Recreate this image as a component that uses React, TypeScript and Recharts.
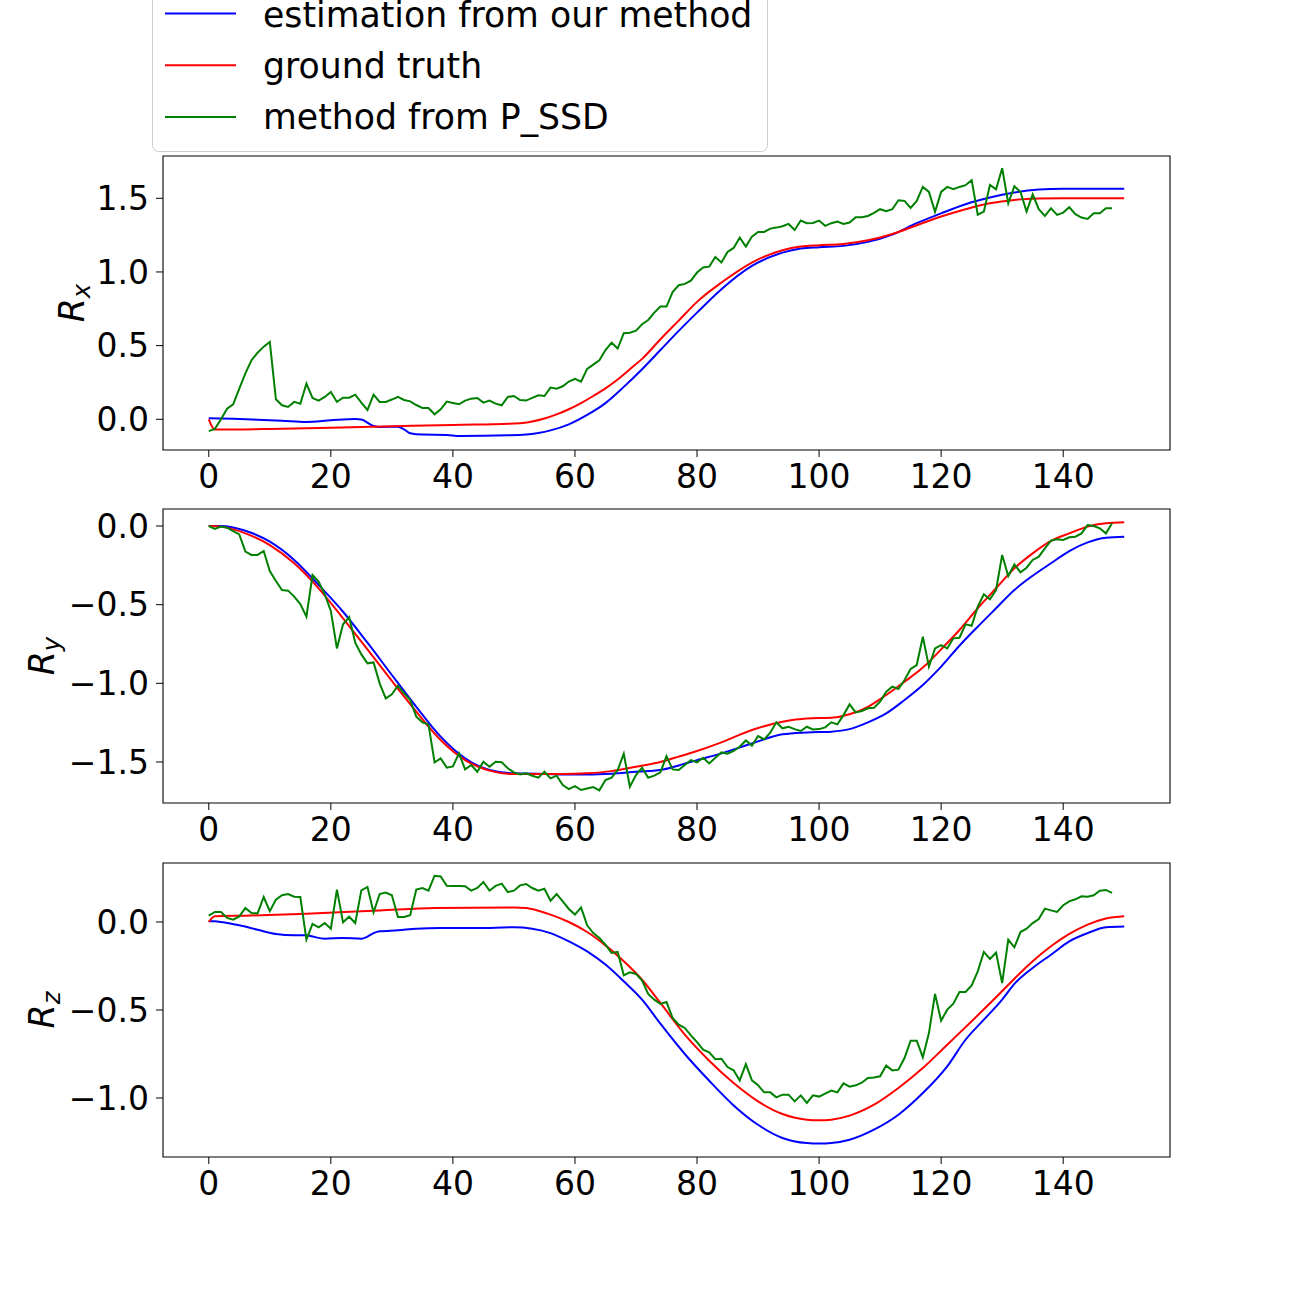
import React from 'react';
import { LineChart, Line, XAxis, YAxis, ReferenceArea, Legend, Label } from 'recharts';

const FONT = '"DejaVu Sans", sans-serif';

const frameTicks = [0, 20, 40, 60, 80, 100, 120, 140];

// ---- R_x ----
const rxEstX = [0, 4, 8, 12, 16, 20, 24, 25, 27, 28, 31, 32, 33, 35, 39, 41, 49, 52, 54, 56, 59, 62, 65, 68, 71, 74, 77, 80, 84, 89, 94, 97, 100, 104, 108, 112, 116, 120, 124, 128, 132, 136, 140, 144, 150];
const rxEst = [0.007, 0.003, -0.003, -0.01, -0.018, -0.007, 0.002, -0.002, -0.045, -0.052, -0.05, -0.068, -0.095, -0.104, -0.106, -0.113, -0.109, -0.104, -0.093, -0.075, -0.034, 0.03, 0.11, 0.22, 0.34, 0.47, 0.6, 0.724, 0.883, 1.041, 1.131, 1.159, 1.168, 1.177, 1.204, 1.254, 1.331, 1.398, 1.46, 1.505, 1.539, 1.559, 1.565, 1.565, 1.565];
const rxTruthX = [0, 1, 10, 25, 40, 51, 53, 55, 57, 59, 61, 63, 65, 67, 69, 71, 74, 77, 80, 84, 89, 94, 97, 100, 104, 108, 112, 116, 120, 124, 128, 132, 136, 140, 150];
const rxTruth = [0, -0.07, -0.066, -0.052, -0.038, -0.027, -0.015, 0.005, 0.033, 0.068, 0.11, 0.158, 0.21, 0.27, 0.34, 0.41, 0.543, 0.67, 0.797, 0.928, 1.064, 1.147, 1.172, 1.181, 1.19, 1.215, 1.258, 1.317, 1.376, 1.426, 1.466, 1.489, 1.498, 1.5, 1.5];
const rxPssd = [
  -0.08, -0.065, 0.0, 0.072, 0.102, 0.208, 0.312, 0.401, 0.452, 0.493,
  0.525, 0.136, 0.095, 0.084, 0.118, 0.106, 0.242, 0.145, 0.127, 0.152,
  0.186, 0.118, 0.147, 0.147, 0.167, 0.113, 0.063, 0.167, 0.118, 0.118,
  0.134, 0.152, 0.131, 0.122, 0.097, 0.077, 0.077, 0.034, 0.068, 0.12,
  0.111, 0.102, 0.127, 0.14, 0.145, 0.113, 0.127, 0.106, 0.095, 0.152,
  0.158, 0.131, 0.127, 0.145, 0.163, 0.158, 0.215, 0.208, 0.224, 0.256,
  0.274, 0.256, 0.342, 0.371, 0.4, 0.47, 0.52, 0.48, 0.584, 0.588,
  0.602, 0.645, 0.674, 0.724, 0.765, 0.765, 0.864, 0.91, 0.919, 0.941,
  0.996, 1.03, 1.036, 1.102, 1.064, 1.136, 1.163, 1.233, 1.172, 1.24,
  1.272, 1.272, 1.294, 1.301, 1.31, 1.326, 1.285, 1.349, 1.331, 1.333,
  1.349, 1.313, 1.331, 1.342, 1.326, 1.335, 1.371, 1.371, 1.38, 1.401,
  1.426, 1.412, 1.426, 1.487, 1.482, 1.435, 1.482, 1.577, 1.543, 1.408,
  1.543, 1.577, 1.561, 1.577, 1.589, 1.623, 1.389, 1.41, 1.591, 1.561,
  1.704, 1.466, 1.582, 1.543, 1.41, 1.527, 1.426, 1.38, 1.432, 1.387,
  1.403, 1.439, 1.392, 1.369, 1.36, 1.398, 1.398, 1.432, 1.432,
];

// ---- R_y ----
const ryEstX = [0, 2, 6, 10, 14, 18, 22, 26, 30, 34, 38, 42, 46, 50, 54, 58, 62, 66, 70, 74, 77, 80, 84, 89, 94, 98, 102, 105, 108, 111, 114, 117, 120, 123, 126, 129, 132, 135, 138, 141, 144, 147, 150];
const ryEst = [0, 0, -0.03, -0.1, -0.216, -0.375, -0.545, -0.742, -0.947, -1.149, -1.339, -1.477, -1.551, -1.572, -1.574, -1.579, -1.579, -1.574, -1.562, -1.551, -1.522, -1.488, -1.445, -1.382, -1.324, -1.312, -1.307, -1.291, -1.248, -1.191, -1.106, -1.011, -0.894, -0.761, -0.64, -0.523, -0.407, -0.316, -0.237, -0.159, -0.104, -0.074, -0.068];
const ryTruthX = [0, 2, 6, 10, 14, 18, 22, 26, 30, 34, 38, 42, 46, 50, 54, 58, 62, 66, 70, 74, 77, 80, 84, 89, 94, 98, 102, 105, 108, 111, 114, 117, 120, 123, 126, 129, 132, 135, 138, 141, 144, 147, 150];
const ryTruth = [0, -0.004, -0.047, -0.121, -0.237, -0.396, -0.587, -0.784, -0.985, -1.18, -1.36, -1.488, -1.555, -1.577, -1.577, -1.577, -1.572, -1.558, -1.53, -1.5, -1.466, -1.43, -1.375, -1.297, -1.244, -1.223, -1.219, -1.197, -1.149, -1.074, -0.99, -0.9, -0.784, -0.661, -0.523, -0.396, -0.269, -0.174, -0.095, -0.047, -0.004, 0.017, 0.023];
const ryPssd = [
  0, -0.019, -0.004, -0.011, -0.032, -0.053, -0.163, -0.184, -0.184, -0.159,
  -0.286, -0.35, -0.407, -0.411, -0.449, -0.496, -0.576, -0.312, -0.354, -0.434,
  -0.54, -0.778, -0.625, -0.579, -0.742, -0.816, -0.873, -0.867, -1.0, -1.096,
  -1.07, -1.015, -1.064, -1.106, -1.212, -1.248, -1.261, -1.502, -1.477, -1.536,
  -1.528, -1.445, -1.547, -1.519, -1.562, -1.498, -1.53, -1.498, -1.502, -1.54,
  -1.566, -1.579, -1.572, -1.587, -1.6, -1.562, -1.604, -1.587, -1.647, -1.672,
  -1.653, -1.678, -1.668, -1.659, -1.68, -1.615, -1.6, -1.551, -1.447, -1.657,
  -1.583, -1.536, -1.6, -1.587, -1.566, -1.463, -1.547, -1.551, -1.519, -1.488,
  -1.502, -1.473, -1.509, -1.473, -1.439, -1.447, -1.43, -1.403, -1.363, -1.396,
  -1.335, -1.356, -1.314, -1.248, -1.286, -1.276, -1.291, -1.303, -1.276, -1.293,
  -1.291, -1.28, -1.248, -1.261, -1.202, -1.134, -1.185, -1.176, -1.159, -1.155,
  -1.117, -1.053, -1.021, -1.036, -0.979, -0.909, -0.884, -0.704, -0.894, -0.778,
  -0.757, -0.778, -0.714, -0.71, -0.625, -0.634, -0.513, -0.434, -0.466, -0.407,
  -0.184, -0.318, -0.244, -0.295, -0.265, -0.216, -0.195, -0.142, -0.093, -0.085,
  -0.089, -0.072, -0.068, -0.047, 0.006, 0, -0.015, -0.047, 0.017,
];

// ---- R_z ----
const rzEstX = [0, 1, 2, 5, 8, 11, 14, 16, 17, 19, 22, 25, 26, 27, 28, 31, 34, 38, 44, 50, 53, 56, 59, 62, 65, 68, 71, 74, 78, 82, 86, 90, 94, 98, 100, 102, 105, 109, 113, 117, 121, 124, 127, 130, 132, 135, 138, 141, 144, 147, 150];
const rzEst = [0.004, 0.004, 0, -0.019, -0.044, -0.068, -0.076, -0.076, -0.083, -0.095, -0.091, -0.095, -0.083, -0.063, -0.053, -0.047, -0.038, -0.034, -0.034, -0.03, -0.038, -0.063, -0.11, -0.167, -0.242, -0.337, -0.441, -0.578, -0.75, -0.902, -1.042, -1.152, -1.227, -1.256, -1.259, -1.256, -1.237, -1.18, -1.095, -0.972, -0.82, -0.669, -0.555, -0.441, -0.352, -0.261, -0.186, -0.11, -0.063, -0.03, -0.025];
const rzTruthX = [0, 1, 6, 16, 28, 37, 50, 52, 54, 56, 59, 62, 65, 68, 71, 74, 78, 82, 86, 90, 94, 98, 100, 102, 105, 109, 113, 117, 121, 125, 129, 132, 135, 138, 141, 144, 147, 150];
const rzTruth = [0, 0.032, 0.036, 0.047, 0.066, 0.08, 0.083, 0.08, 0.064, 0.042, 0, -0.057, -0.133, -0.223, -0.328, -0.46, -0.64, -0.788, -0.915, -1.019, -1.091, -1.123, -1.127, -1.123, -1.1, -1.038, -0.943, -0.83, -0.697, -0.564, -0.428, -0.322, -0.223, -0.138, -0.068, -0.015, 0.02, 0.032];
const rzPssd = [
  0.036, 0.057, 0.057, 0.023, 0.013, 0.032, 0.08, 0.051, 0.049, 0.142,
  0.061, 0.127, 0.152, 0.159, 0.144, 0.142, -0.1, -0.011, -0.03, -0.006,
  -0.038, 0.184, -0.002, 0.03, -0.006, 0.18, 0.199, 0.055, 0.159, 0.167,
  0.152, 0.028, 0.028, 0.038, 0.184, 0.193, 0.178, 0.263, 0.259, 0.206,
  0.205, 0.205, 0.203, 0.178, 0.193, 0.227, 0.178, 0.205, 0.218, 0.17,
  0.178, 0.208, 0.216, 0.193, 0.178, 0.189, 0.121, 0.159, 0.117, 0.074,
  0.042, 0.083, -0.019, -0.063, -0.091, -0.129, -0.176, -0.17, -0.303, -0.286,
  -0.295, -0.333, -0.409, -0.441, -0.466, -0.455, -0.545, -0.583, -0.602, -0.644,
  -0.682, -0.725, -0.741, -0.78, -0.777, -0.824, -0.843, -0.9, -0.807, -0.9,
  -0.928, -0.968, -0.968, -0.996, -0.981, -0.981, -1.019, -0.985, -1.028, -0.985,
  -0.992, -0.975, -0.958, -0.968, -0.917, -0.936, -0.928, -0.913, -0.886, -0.884,
  -0.877, -0.816, -0.843, -0.839, -0.773, -0.674, -0.674, -0.769, -0.631, -0.409,
  -0.561, -0.498, -0.464, -0.398, -0.398, -0.36, -0.28, -0.17, -0.21, -0.174,
  -0.347, -0.1, -0.144, -0.057, -0.038, -0.006, 0.017, 0.076, 0.066, 0.057,
  0.095, 0.117, 0.129, 0.146, 0.144, 0.152, 0.178, 0.182, 0.165,
];

const legendItems = [
  { name: 'estimation from our method', color: '#0000ff' },
  { name: 'ground truth', color: '#ff0000' },
  { name: 'method from P_SSD', color: '#008000' },
];

const pairUp = (xs: number[], ys: number[]) => xs.map((x, i) => ({ x, v: ys[i] }));
const byFrame = (ys: number[]) => ys.map((v, i) => ({ x: i, v }));

const fmt = (v: number) => (v < 0 ? '\u2212' : '') + Math.abs(v).toFixed(1);

const panels = [
  {
    sub: 'x', top: 150, domain: [-0.2084, 1.787], ticks: [0, 0.5, 1, 1.5], labelX: 84,
    est: pairUp(rxEstX, rxEst), truth: pairUp(rxTruthX, rxTruth), pssd: byFrame(rxPssd),
  },
  {
    sub: 'y', top: 503, domain: [-1.7606, 0.108], ticks: [-1.5, -1, -0.5, 0], labelX: 54,
    est: pairUp(ryEstX, ryEst), truth: pairUp(ryTruthX, ryTruth), pssd: byFrame(ryPssd),
  },
  {
    sub: 'z', top: 857, domain: [-1.3352, 0.3352], ticks: [-1, -0.5, 0], labelX: 54,
    est: pairUp(rzEstX, rzEst), truth: pairUp(rzTruthX, rzTruth), pssd: byFrame(rzPssd),
  },
];

const axisTitle = (sub: string, x: number) => (props: any) => {
  const vb = props.viewBox || { y: 0, height: 0 };
  const cy = vb.y + vb.height / 2;
  return (
    <text
      transform={`rotate(-90 ${x} ${cy})`}
      x={x}
      y={cy}
      textAnchor="middle"
      fontFamily={FONT}
      fontSize={34.7}
      fontStyle="italic"
      fill="#000"
    >
      R<tspan dy={5.5} fontSize={24.3}>{sub}</tspan>
    </text>
  );
};

const renderLegend = () => (
  <svg width={617} height={170} style={{ display: 'block' }}>
    <rect x={0.5} y={0.5} width={615} height={168} rx={6} fill="#ffffff" fillOpacity={0.8} stroke="#cccccc" />
    {legendItems.map((it, i) => (
      <g key={it.name}>
        <line x1={13} x2={84} y1={30.5 + 51.7 * i} y2={30.5 + 51.7 * i} stroke={it.color} strokeWidth={2} />
        <text x={111} y={43.5 + 51.4 * i} fontFamily={FONT} fontSize={34.7} fill="#000">
          {it.name}
        </text>
      </g>
    ))}
  </svg>
);

const tickStyle = { fontFamily: FONT, fontSize: 33, fill: '#000' };

const App = () => {
  return (
    <div style={{ position: 'absolute', left: 0, top: 0, width: 1300, height: 1300, background: '#fff' }}>
      {panels.map((p, idx) => (
        <div key={p.sub} style={{ position: 'absolute', left: 0, top: p.top }}>
          <LineChart width={1300} height={360} margin={{ top: 6, right: 130, bottom: 0, left: 0 }}>
            <XAxis
              type="number"
              dataKey="x"
              domain={[-7.5, 157.5]}
              allowDataOverflow
              ticks={frameTicks}
              interval={0}
              tick={tickStyle}
              tickLine={{ stroke: '#000' }}
              axisLine={false}
              tickSize={7}
              tickMargin={8}
              height={60}
            />
            <YAxis
              type="number"
              domain={p.domain}
              allowDataOverflow
              ticks={p.ticks}
              interval={0}
              tickFormatter={fmt}
              tick={tickStyle}
              tickLine={{ stroke: '#000' }}
              axisLine={false}
              tickSize={7}
              tickMargin={7}
              width={163}
            >
              <Label content={axisTitle(p.sub, p.labelX)} />
            </YAxis>
            <Line
              data={p.est}
              dataKey="v"
              name="estimation from our method"
              type="monotone"
              stroke="#0000ff"
              strokeWidth={2}
              dot={false}
              activeDot={false}
              isAnimationActive={false}
            />
            <Line
              data={p.truth}
              dataKey="v"
              name="ground truth"
              type="monotone"
              stroke="#ff0000"
              strokeWidth={2}
              dot={false}
              activeDot={false}
              isAnimationActive={false}
            />
            <Line
              data={p.pssd}
              dataKey="v"
              name="method from P_SSD"
              type="linear"
              stroke="#008000"
              strokeWidth={2}
              dot={false}
              activeDot={false}
              isAnimationActive={false}
            />
            <ReferenceArea
              x1={-7.5}
              x2={157.5}
              y1={p.domain[0]}
              y2={p.domain[1]}
              fill="none"
              stroke="#000"
              strokeWidth={1.1}
              ifOverflow="visible"
            />
            {idx === 0 && (
              <Legend
                layout="vertical"
                align="center"
                verticalAlign="middle"
                content={renderLegend}
                wrapperStyle={{ left: 152, top: -167, width: 617, height: 170 }}
              />
            )}
          </LineChart>
        </div>
      ))}
    </div>
  );
};

export default App;
